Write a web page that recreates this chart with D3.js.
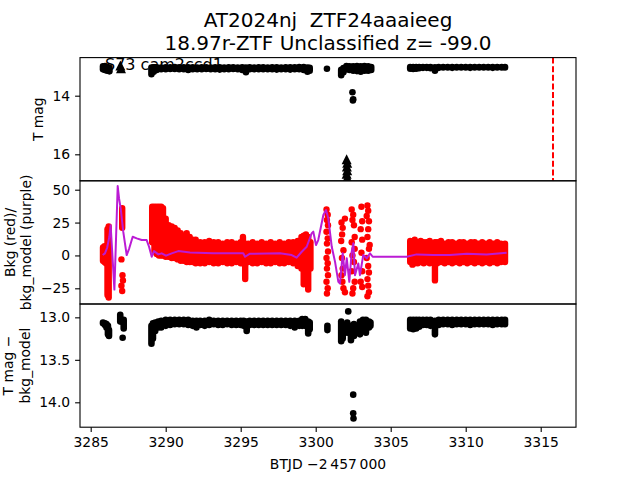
<!DOCTYPE html>
<html>
<head>
<meta charset="utf-8">
<script src="https://cdn.jsdelivr.net/npm/d3@7"></script>
<style>
  body { margin: 0; background: #fff; }
  svg { font-family: "DejaVu Sans", sans-serif; }
  text { white-space: pre; }
</style>
</head>
<body>
<svg id="chart" width="640" height="480"></svg>
<script>
// ---- data ----
// rows are [BTJD, low, high]; a row with low == high is a single point
const tmagBand = [
  [3285.82, 13.0, 13.1], [3285.95, 12.99, 13.12], [3286.1, 13.02, 13.15], [3286.25, 13.05, 13.17],
  [3289.05, 13.04, 13.27], [3289.2, 13.03, 13.18], [3289.4, 13.03, 13.12], [3289.7, 13.04, 13.1],
  [3290.0, 13.03, 13.1], [3290.3, 13.03, 13.09], [3290.6, 13.02, 13.09], [3290.9, 13.03, 13.1],
  [3291.2, 13.03, 13.1], [3291.5, 13.03, 13.12], [3291.8, 13.03, 13.1], [3292.1, 13.04, 13.1],
  [3292.4, 13.03, 13.1], [3292.7, 13.03, 13.09], [3293.0, 13.04, 13.1], [3293.3, 13.03, 13.1],
  [3293.6, 13.03, 13.11], [3293.9, 13.04, 13.1], [3294.2, 13.03, 13.1], [3294.5, 13.03, 13.09],
  [3294.8, 13.04, 13.1], [3295.1, 13.03, 13.12], [3295.35, 13.04, 13.2], [3295.6, 13.03, 13.1],
  [3295.9, 13.04, 13.1], [3296.2, 13.03, 13.1], [3296.5, 13.03, 13.1], [3296.8, 13.04, 13.1],
  [3297.1, 13.03, 13.1], [3297.4, 13.03, 13.11], [3297.7, 13.04, 13.1], [3298.0, 13.03, 13.1],
  [3298.3, 13.03, 13.11], [3298.6, 13.03, 13.1], [3298.9, 13.02, 13.1], [3299.2, 13.02, 13.12],
  [3299.45, 13.04, 13.18], [3299.6, 13.05, 13.15],
  [3300.75, 13.08, 13.08],
  [3301.7, 13.12, 13.3], [3301.85, 13.06, 13.2], [3302.05, 12.99, 13.1], [3302.25, 13.0, 13.12],
  [3302.5, 13.0, 13.15], [3302.75, 12.99, 13.16], [3303.0, 13.0, 13.18], [3303.25, 12.99, 13.15],
  [3303.5, 13.0, 13.15], [3303.7, 13.02, 13.12],
  [3302.45, 13.88, 13.88], [3302.5, 14.12, 14.12], [3302.48, 14.16, 14.16],
  [3306.3, 13.02, 13.08], [3306.5, 13.02, 13.09], [3306.7, 13.02, 13.08], [3306.9, 13.02, 13.06],
  [3307.15, 13.02, 13.05], [3307.4, 13.02, 13.05], [3307.65, 13.02, 13.06], [3307.95, 13.03, 13.15],
  [3308.2, 13.02, 13.05], [3308.5, 13.02, 13.04], [3308.8, 13.02, 13.04], [3309.1, 13.02, 13.05],
  [3309.4, 13.02, 13.04], [3309.7, 13.02, 13.04], [3310.0, 13.02, 13.04], [3310.3, 13.02, 13.05],
  [3310.6, 13.02, 13.04], [3310.9, 13.02, 13.04], [3311.2, 13.02, 13.04], [3311.5, 13.02, 13.04],
  [3311.8, 13.02, 13.05], [3312.1, 13.02, 13.04], [3312.4, 13.02, 13.04], [3312.62, 13.02, 13.04]
];
// upper limits, drawn as triangles: [BTJD, mag]
const tmagLimits = [
  [3286.98, 13.0], [3287.02, 13.1],
  [3302.06, 16.2], [3302.1, 16.32], [3302.08, 16.45], [3302.1, 16.58], [3302.06, 16.7],
  [3302.1, 16.82], [3302.08, 16.95]
];

const bkgBand = [
  [3285.82, -4, 6], [3285.92, -5, 7], [3286.02, -6, 5], [3286.12, -30, 20], [3286.2, -32, 22],
  [3287.1, 21, 36],
  [3289.1, 10, 37], [3289.25, 3, 37], [3289.4, 1, 37], [3289.55, 0, 37], [3289.7, 0, 37],
  [3289.82, 0, 36], [3290.0, -1, 28], [3290.2, -1, 23], [3290.4, -2, 22], [3290.6, -2, 21],
  [3290.8, -3, 19], [3291.0, -4, 17], [3291.2, -4, 15], [3291.4, -5, 17], [3291.6, -5, 14],
  [3291.8, -5, 12], [3292.0, -6, 12], [3292.3, -6, 10], [3292.6, -6, 10], [3292.9, -5, 11],
  [3293.2, -6, 10], [3293.5, -6, 10], [3293.8, -5, 9], [3294.1, -6, 10], [3294.4, -6, 10],
  [3294.7, -5, 9], [3295.0, -6, 10], [3295.15, -6, 14], [3295.3, -18, 9], [3295.5, -5, 9],
  [3295.8, -6, 10], [3296.1, -6, 9], [3296.4, -5, 10], [3296.7, -6, 9], [3297.0, -6, 10],
  [3297.3, -5, 9], [3297.6, -6, 10], [3297.9, -6, 9], [3298.2, -5, 10], [3298.5, -6, 10],
  [3298.8, -8, 11], [3299.05, -10, 14], [3299.2, -22, 15], [3299.35, -12, 16], [3299.5, -26, 14],
  [3299.65, -10, 10],
  [3306.3, -5, 11], [3306.45, -7, 10], [3306.6, -6, 12], [3306.8, -6, 10], [3307.0, -5, 11],
  [3307.2, -6, 10], [3307.4, -5, 10], [3307.6, -6, 11], [3307.8, -5, 9], [3307.95, -19, 10],
  [3308.1, -6, 10], [3308.35, -5, 11], [3308.6, -6, 9], [3308.85, -5, 10], [3309.1, -6, 10],
  [3309.35, -5, 9], [3309.6, -6, 10], [3309.85, -5, 10], [3310.1, -6, 9], [3310.35, -5, 10],
  [3310.6, -6, 10], [3310.85, -5, 9], [3311.1, -6, 10], [3311.35, -5, 9], [3311.6, -6, 10],
  [3311.85, -5, 9], [3312.1, -6, 10], [3312.35, -5, 9], [3312.62, -5, 9]
];
// scattered background points: [BTJD, counts]
const bkgPoints = [
  [3287.05, -3], [3287.12, -15], [3287.15, -19], [3287.05, -23], [3287.1, -27],
  [3300.72, 35], [3300.8, 31], [3300.75, 27], [3300.82, 23], [3300.72, 18], [3300.8, 13],
  [3300.75, 9], [3300.82, 3], [3300.72, -2], [3300.8, -6], [3300.75, -10], [3300.82, -15],
  [3300.72, -20], [3300.8, -25], [3300.75, -29],
  [3301.72, 25], [3301.8, 21], [3301.76, 16], [3301.7, 11], [3301.85, 4], [3301.75, -2],
  [3301.8, -10], [3301.72, -15], [3301.78, -20], [3301.85, -25], [3301.95, 28], [3301.95, -28],
  [3302.4, 35], [3302.5, 31], [3302.45, 27], [3302.55, 23], [3302.6, 14], [3302.4, 10],
  [3302.6, 5], [3302.45, 0], [3302.55, -5], [3302.4, -12], [3302.6, -20], [3302.5, -25],
  [3302.45, -29],
  [3303.05, 37], [3303.1, 26], [3303.0, 20], [3303.1, 12], [3303.05, 2], [3303.1, -12],
  [3303.0, -20], [3303.1, -24], [3303.45, 38], [3303.5, 34], [3303.4, 30], [3303.55, 26],
  [3303.5, 20], [3303.45, 14], [3303.6, 8], [3303.55, 5], [3303.4, -2], [3303.5, -8],
  [3303.55, -13], [3303.45, -18], [3303.5, -23], [3303.55, -28], [3303.45, -31]
];
const modelT = [
  3285.8, 3285.95, 3286.1, 3286.24, 3286.33, 3286.58, 3286.8, 3286.89, 3287.0, 3287.17,
  3287.4, 3287.57, 3287.8, 3288.07, 3288.4, 3288.73, 3288.89, 3289.07, 3289.22, 3289.51,
  3289.73, 3290.02, 3290.4, 3290.84, 3291.62, 3293.17, 3295.17, 3295.29, 3295.62, 3297.62,
  3298.4, 3298.73, 3299.07, 3299.4, 3299.73, 3299.84, 3300.02, 3300.17, 3300.51, 3300.69,
  3300.84, 3301.07, 3301.29, 3301.51, 3301.62, 3301.8, 3301.95, 3302.07, 3302.24, 3302.4,
  3302.51, 3302.62, 3302.84, 3302.95, 3303.17, 3303.4, 3303.62, 3303.8, 3306.07, 3306.73,
  3307.84, 3308.95, 3310.07, 3311.4, 3312.73
];
const modelV = [
  0.3, 1.6, 6, 14, 23, -26, 52.8, 43.4, 35.8, 18.1,
  0.3, 5.4, 14.2, 13, 11.7, 11.7, 6.6, -1, 3.3, 0.8,
  1.6, -0.2, 1.6, 3.3, 2.3, 1.6, 1.6, -1, 1.3, 1.6,
  0.3, -1.7, 2.8, 6.6, 16.8, 18.1, 7.9, 11.7, 30.7, 34.5,
  28.2, 6.6, -4.9, -20.1, -21.3, 1.6, -15, -2.2, -20.1, 2.8,
  9.2, -15, -6.1, -15, 0.3, -2.2, 1.6, -1, -1, 0.8,
  0.3, 0.3, 1.3, 0.8, 2.1
];

const diffBand = [
  [3285.82, 13.06, 13.07], [3285.95, 13.07, 13.09], [3286.05, 13.08, 13.12], [3286.15, 13.1, 13.2],
  [3286.22, 13.15, 13.22],
  [3286.97, 12.97, 13.05], [3287.13, 13.24, 13.24], [3287.2, 13.03, 13.13],
  [3289.05, 13.1, 13.31], [3289.15, 13.07, 13.25], [3289.3, 13.06, 13.16], [3289.5, 13.05, 13.12],
  [3289.7, 13.04, 13.12], [3290.0, 13.03, 13.1], [3290.3, 13.03, 13.09], [3290.6, 13.03, 13.08],
  [3290.9, 13.03, 13.08], [3291.2, 13.03, 13.08], [3291.5, 13.03, 13.09], [3291.8, 13.04, 13.1],
  [3292.05, 13.04, 13.12], [3292.3, 13.04, 13.09], [3292.6, 13.04, 13.1], [3292.9, 13.03, 13.09],
  [3293.2, 13.04, 13.08], [3293.5, 13.04, 13.09], [3293.8, 13.04, 13.09], [3294.1, 13.04, 13.08],
  [3294.4, 13.04, 13.09], [3294.7, 13.04, 13.09], [3295.0, 13.04, 13.09], [3295.2, 13.04, 13.1],
  [3295.4, 13.05, 13.16], [3295.6, 13.04, 13.09], [3295.9, 13.04, 13.09], [3296.2, 13.04, 13.09],
  [3296.5, 13.04, 13.09], [3296.8, 13.04, 13.09], [3297.1, 13.04, 13.09], [3297.4, 13.04, 13.09],
  [3297.7, 13.04, 13.09], [3298.0, 13.04, 13.09], [3298.3, 13.04, 13.1], [3298.6, 13.04, 13.12],
  [3298.9, 13.04, 13.1], [3299.1, 13.02, 13.1], [3299.3, 13.02, 13.1], [3299.5, 13.05, 13.19],
  [3299.6, 13.06, 13.14],
  [3300.78, 13.1, 13.15],
  [3301.7, 13.05, 13.28], [3301.8, 13.1, 13.25], [3302.1, 13.06, 13.18], [3302.17, 12.93, 12.93],
  [3302.35, 13.1, 13.27], [3302.55, 13.08, 13.22], [3302.95, 13.05, 13.2], [3303.15, 13.03, 13.15],
  [3303.35, 13.03, 13.18], [3303.55, 13.05, 13.12], [3303.65, 13.06, 13.1],
  [3302.5, 13.91, 13.91], [3302.5, 14.13, 14.13], [3302.52, 14.19, 14.19],
  [3306.3, 13.03, 13.13], [3306.5, 13.03, 13.14], [3306.7, 13.03, 13.13], [3306.9, 13.03, 13.11],
  [3307.15, 13.03, 13.09], [3307.4, 13.03, 13.09], [3307.65, 13.03, 13.1], [3307.95, 13.04, 13.2],
  [3308.2, 13.03, 13.09], [3308.5, 13.03, 13.08], [3308.8, 13.03, 13.08], [3309.1, 13.03, 13.09],
  [3309.4, 13.03, 13.08], [3309.7, 13.03, 13.08], [3310.0, 13.03, 13.08], [3310.3, 13.03, 13.09],
  [3310.6, 13.03, 13.08], [3310.9, 13.03, 13.08], [3311.2, 13.03, 13.08], [3311.5, 13.03, 13.08],
  [3311.8, 13.03, 13.09], [3312.1, 13.03, 13.08], [3312.4, 13.03, 13.08], [3312.62, 13.03, 13.08]
];

const peakTime = 3315.82;
const xTicks = [3285, 3290, 3295, 3300, 3305, 3310, 3315];
const topTicks = [14, 16];
const midTicks = [50, 25, 0, -25];
const botTicks = [13.0, 13.5, 14.0];

const titleLines = ['AT2024nj  ZTF24aaaieeg', '18.97r-ZTF Unclassified z= -99.0'];
const sectorLabel = 'S73 cam2ccd1';

// ---- layout ----
const left = 80, right = 576;
const p1 = [57.6, 180.8], p2 = [180.8, 304], p3 = [304, 427.2];
const tickFont = 13.9;

const svg = d3.select('#chart');

const x = d3.scaleLinear().domain([3284.287, 3317.353]).range([left, right]);
const yTop = d3.scaleLinear().domain([12.70, 16.904]).range(p1);
const yMid = d3.scaleLinear().domain([-36.94, 56.77]).range([p2[1], p2[0]]);
const yBot = d3.scaleLinear().domain([12.843, 14.293]).range(p3);

function clipFor(id, p) {
  svg.append('clipPath').attr('id', id)
    .append('rect').attr('x', left).attr('y', p[0])
    .attr('width', right - left).attr('height', p[1] - p[0]);
  return svg.append('g').attr('clip-path', `url(#${id})`);
}

// column of touching dots from low to high
function drawBand(g, rows, y, color, r) {
  g.selectAll(null).data(rows).enter().append('rect')
    .attr('x', d => x(d[0]) - r)
    .attr('y', d => Math.min(y(d[1]), y(d[2])) - r)
    .attr('width', 2 * r)
    .attr('height', d => Math.abs(y(d[2]) - y(d[1])) + 2 * r)
    .attr('rx', r).attr('ry', r)
    .attr('fill', color);
}

function yAxis(p, y, ticks, fmt) {
  const g = svg.append('g').attr('transform', `translate(${left},0)`)
    .call(d3.axisLeft(y).tickValues(ticks).tickFormat(fmt)
      .tickSize(4.9).tickPadding(4.9));
  g.select('.domain').remove();
  g.selectAll('line').attr('stroke', '#000').attr('stroke-width', 1.1);
  g.selectAll('text').attr('font-size', tickFont).attr('fill', '#000')
    .attr('font-family', '"DejaVu Sans", sans-serif');
}

function yLabel(lines, xs, p) {
  const cy = (p[0] + p[1]) / 2;
  lines.forEach((s, i) => {
    svg.append('text')
      .attr('transform', `translate(${xs[i]},${cy}) rotate(-90)`)
      .attr('text-anchor', 'middle').attr('font-size', tickFont).text(s);
  });
}

// ---- top panel: T mag ----
svg.append('text').attr('x', 105).attr('y', 70).attr('font-size', 16).text(sectorLabel);
const g1 = clipFor('c1', p1);
drawBand(g1, tmagBand, yTop, '#000', 3.3);
g1.selectAll(null).data(tmagLimits).enter().append('path')
  .attr('d', 'M0,-6L5,4L-5,4Z')
  .attr('transform', d => `translate(${x(d[0])},${yTop(d[1])})`)
  .attr('fill', '#000');
g1.append('line')
  .attr('x1', x(peakTime)).attr('x2', x(peakTime))
  .attr('y1', p1[0]).attr('y2', p1[1])
  .attr('stroke', 'red').attr('stroke-width', 2).attr('stroke-dasharray', '6,2.6');

// ---- middle panel: background ----
const g2 = clipFor('c2', p2);
drawBand(g2, bkgBand, yMid, '#ff0000', 3.2);
g2.selectAll(null).data(bkgPoints).enter().append('circle')
  .attr('cx', d => x(d[0])).attr('cy', d => yMid(d[1])).attr('r', 3.2)
  .attr('fill', '#ff0000');
g2.append('path')
  .datum(modelT.map((t, i) => [t, modelV[i]]))
  .attr('d', d3.line().x(d => x(d[0])).y(d => yMid(d[1])))
  .attr('fill', 'none').attr('stroke', '#bb1bd4').attr('stroke-width', 2)
  .attr('stroke-linejoin', 'round');

// ---- bottom panel: T mag - bkg_model ----
const g3 = clipFor('c3', p3);
drawBand(g3, diffBand, yBot, '#000', 3.3);

// ---- frames & axes ----
[p1, p2, p3].forEach(p => {
  svg.append('rect').attr('x', left).attr('y', p[0])
    .attr('width', right - left).attr('height', p[1] - p[0])
    .attr('fill', 'none').attr('stroke', '#000').attr('stroke-width', 1.1);
});

yAxis(p1, yTop, topTicks, d3.format('d'));
yAxis(p2, yMid, midTicks, d3.format('d'));
yAxis(p3, yBot, botTicks, d3.format('.1f'));

const gx = svg.append('g').attr('transform', `translate(0,${p3[1]})`)
  .call(d3.axisBottom(x).tickValues(xTicks).tickFormat(d3.format('d'))
    .tickSize(4.9).tickPadding(4.9));
gx.select('.domain').remove();
gx.selectAll('line').attr('stroke', '#000').attr('stroke-width', 1.1);
gx.selectAll('text').attr('font-size', tickFont).attr('fill', '#000')
  .attr('font-family', '"DejaVu Sans", sans-serif');

svg.append('text').attr('x', (left + right) / 2).attr('y', 468.5)
  .attr('text-anchor', 'middle').attr('font-size', tickFont)
  .text('BTJD \u22122\u2009457\u2009000');

yLabel(['T mag'], [42.5], p1);
yLabel(['Bkg (red)/', 'bkg_model (purple)'], [14.5, 31], p2);
yLabel(['T mag \u2212', 'bkg_model'], [12.5, 29.5], p3);

titleLines.forEach((s, i) => {
  svg.append('text').attr('x', (left + right) / 2).attr('y', 27 + i * 22.5)
    .attr('text-anchor', 'middle').attr('font-size', 20).text(s);
});
</script>
</body>
</html>
